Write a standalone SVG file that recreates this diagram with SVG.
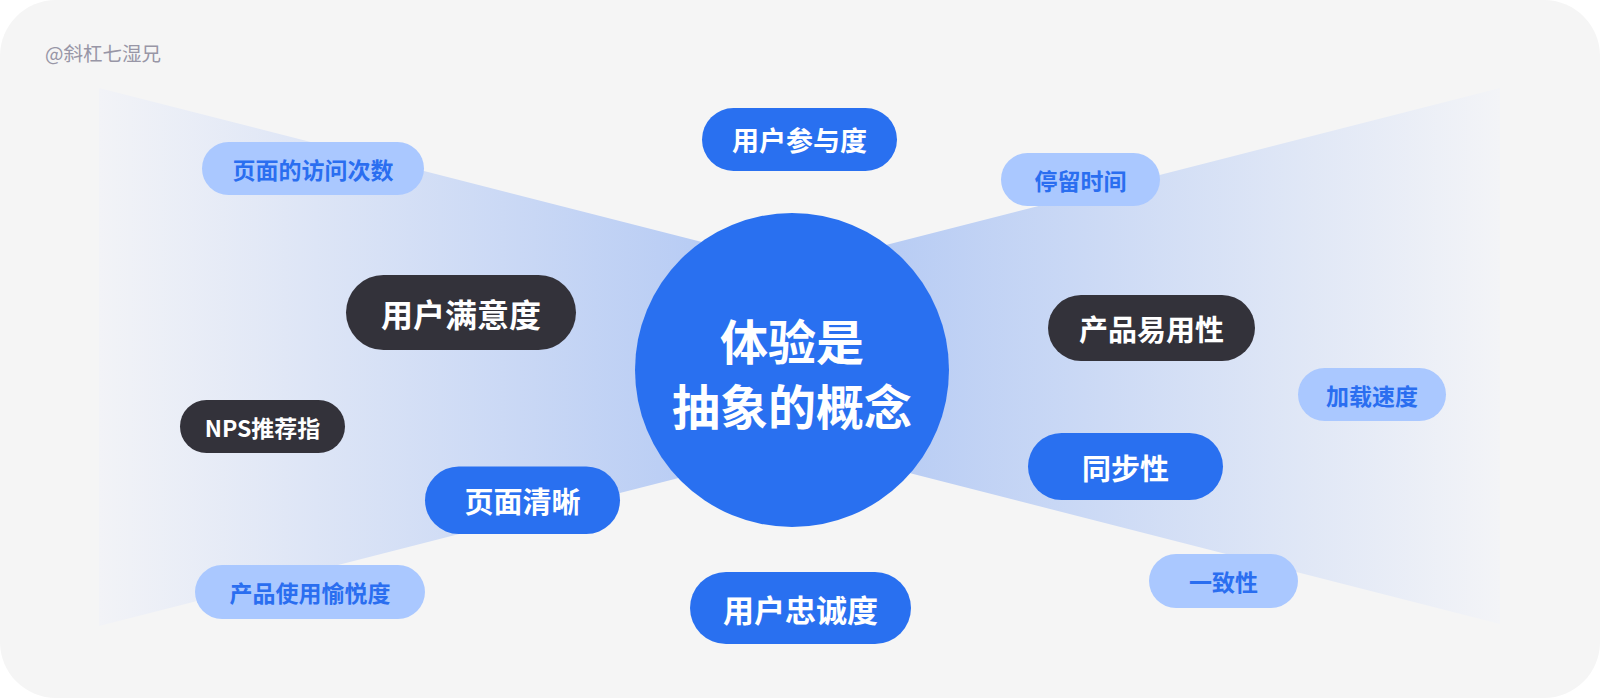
<svg xmlns="http://www.w3.org/2000/svg" width="1600" height="698" viewBox="0 0 1600 698">
  <defs>
    <linearGradient id="gl" gradientUnits="userSpaceOnUse" x1="99" y1="0" x2="720" y2="0">
      <stop offset="0" stop-color="#f2f3f7"/>
      <stop offset="1" stop-color="#b6cbf4"/>
    </linearGradient>
    <linearGradient id="gr" gradientUnits="userSpaceOnUse" x1="870" y1="0" x2="1500" y2="0">
      <stop offset="0" stop-color="#b6cbf4"/>
      <stop offset="1" stop-color="#f3f4f7"/>
    </linearGradient>
    <style>
      .t { font-family: "Noto Sans CJK SC", "Noto Sans", sans-serif; font-weight: 700; text-anchor: middle; dominant-baseline: central; }
      .light rect { fill: #aac8ff; }
      .light text { fill: #2a6ef0; font-size: 23px; }
      .blue rect { fill: #2970f0; }
      .blue text { fill: #ffffff; }
      .dark rect { fill: #33323a; }
      .dark text { fill: #ffffff; }
    </style>
  </defs>
  <rect x="0" y="0" width="1600" height="698" fill="#ffffff"/>
  <rect x="0" y="0" width="1600" height="698" rx="56" ry="56" fill="#f5f5f5"/>
  <text x="45" y="52" font-family="Noto Sans CJK SC, Noto Sans, sans-serif" font-size="19.5" fill="#9896a6" dominant-baseline="central">@斜杠七湿兄</text>

  <g id="connectors">
    <polygon points="99,88 99,626 792,449 792,265" fill="url(#gl)"/>
    <polygon points="1500,88 1500,624 792,443 792,269" fill="url(#gr)"/>
  </g>

  <g id="center">
    <circle cx="792" cy="370" r="157" fill="#2970f0"/>
    <text class="t" x="792" y="339" font-size="48" fill="#ffffff">体验是</text>
    <text class="t" x="792" y="403.5" font-size="48" fill="#ffffff">抽象的概念</text>
  </g>

  <g id="n-visits" class="light">
    <rect x="202" y="142" width="222" height="53" rx="26.5"/>
    <text class="t" x="313" y="168.5">页面的访问次数</text>
  </g>
  <g id="n-engagement" class="blue">
    <rect x="702" y="108" width="195" height="63" rx="31.5"/>
    <text class="t" x="799.5" y="139.5" font-size="27">用户参与度</text>
  </g>
  <g id="n-staytime" class="light">
    <rect x="1001" y="153" width="159" height="53" rx="26.5"/>
    <text class="t" x="1080.5" y="179.5">停留时间</text>
  </g>
  <g id="n-satisfaction" class="dark">
    <rect x="346" y="275" width="230" height="75" rx="37.5"/>
    <text class="t" x="461" y="312.5" font-size="32">用户满意度</text>
  </g>
  <g id="n-usability" class="dark">
    <rect x="1048" y="295" width="207" height="66" rx="33"/>
    <text class="t" x="1151.5" y="328" font-size="29">产品易用性</text>
  </g>
  <g id="n-nps" class="dark">
    <rect x="180" y="400" width="165" height="53" rx="26.5"/>
    <text class="t" x="262.5" y="426.5" font-size="23">NPS推荐指</text>
  </g>
  <g id="n-loadspeed" class="light">
    <rect x="1298" y="368" width="148" height="53" rx="26.5"/>
    <text class="t" x="1372" y="394.5">加载速度</text>
  </g>
  <g id="n-sync" class="blue">
    <rect x="1028" y="433" width="195" height="67" rx="33.5"/>
    <text class="t" x="1125.5" y="466.5" font-size="29">同步性</text>
  </g>
  <g id="n-clarity" class="blue">
    <rect x="425" y="466.5" width="195" height="67.5" rx="33.75"/>
    <text class="t" x="522.5" y="500.25" font-size="29">页面清晰</text>
  </g>
  <g id="n-delight" class="light">
    <rect x="195" y="565" width="230" height="54" rx="27"/>
    <text class="t" x="310" y="592">产品使用愉悦度</text>
  </g>
  <g id="n-consistency" class="light">
    <rect x="1149" y="554" width="149" height="54" rx="27"/>
    <text class="t" x="1223.5" y="581">一致性</text>
  </g>
  <g id="n-loyalty" class="blue">
    <rect x="690" y="572" width="221" height="72" rx="36"/>
    <text class="t" x="800.5" y="608" font-size="31">用户忠诚度</text>
  </g>
</svg>
